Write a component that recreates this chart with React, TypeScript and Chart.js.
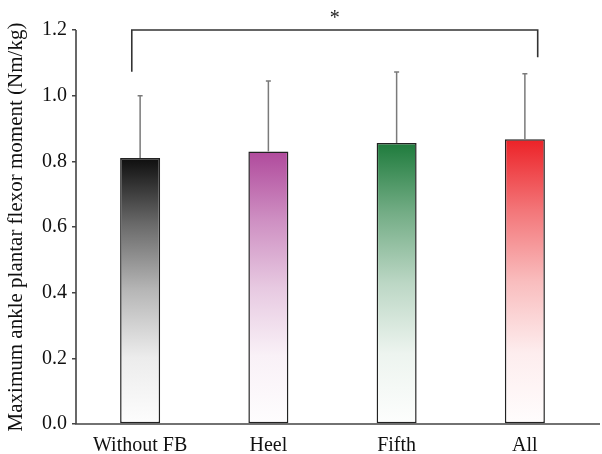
import React, { useEffect, useRef } from "react";
import { Chart, registerables } from "chart.js";

Chart.register(...registerables);

const categories = ["Without FB", "Heel", "Fifth", "All"];
const means = [0.81, 0.83, 0.856, 0.867];
const sdUpper = [0.19, 0.215, 0.216, 0.2];
const barColors = ["#0e0e0e", "#b04a9c", "#1e7b3c", "#ec2227"];
const yTicks = [0, 0.2, 0.4, 0.6, 0.8, 1.0, 1.2];
const bracketX = [-0.065, 3.1];
const bracketTop = [1.2];
const bracketLegEnds = [1.073, 1.117];
const sigLabel = "*";
const yTitle = "Maximum ankle plantar flexor moment (Nm/kg)";

const FONT = "'Liberation Serif', 'DejaVu Serif', serif";

function hexToRgb(h: string) {
  const n = parseInt(h.slice(1), 16);
  return [(n >> 16) & 255, (n >> 8) & 255, n & 255];
}
function mix(h: string, t: number) {
  const [r, g, b] = hexToRgb(h);
  const m = (c: number) => Math.round(c + (255 - c) * t);
  return `rgb(${m(r)},${m(g)},${m(b)})`;
}

const overlay = {
  id: "overlay",
  afterDatasetsDraw(chart: any) {
    const { ctx, scales, chartArea } = chart;
    const x = scales.x;
    const y = scales.y;
    ctx.save();
    // error bars
    ctx.strokeStyle = "#7a7a7a";
    ctx.lineWidth = 1.5;
    means.forEach((m, i) => {
      const cx = x.getPixelForValue(i);
      const y0 = y.getPixelForValue(m);
      const y1 = y.getPixelForValue(m + sdUpper[i]);
      ctx.beginPath();
      ctx.moveTo(cx, y0);
      ctx.lineTo(cx, y1);
      ctx.moveTo(cx - 2.5, y1);
      ctx.lineTo(cx + 2.5, y1);
      ctx.stroke();
    });
    // bracket
    const bx0 = x.getPixelForValue(bracketX[0]);
    const bx1 = x.getPixelForValue(bracketX[1]);
    const by = y.getPixelForValue(bracketTop[0]);
    ctx.strokeStyle = "#333";
    ctx.lineWidth = 1.6;
    ctx.beginPath();
    ctx.moveTo(bx0, y.getPixelForValue(bracketLegEnds[0]));
    ctx.lineTo(bx0, by);
    ctx.lineTo(bx1, by);
    ctx.lineTo(bx1, y.getPixelForValue(bracketLegEnds[1]));
    ctx.stroke();
    ctx.fillStyle = "#222";
    ctx.font = `20px ${FONT}`;
    ctx.textAlign = "center";
    ctx.textBaseline = "bottom";
    ctx.fillText(sigLabel, (bx0 + bx1) / 2, by - 1);
    // axes lines
    ctx.strokeStyle = "#444";
    ctx.lineWidth = 1.6;
    ctx.beginPath();
    ctx.moveTo(chartArea.left, chartArea.top);
    ctx.lineTo(chartArea.left, chartArea.bottom);
    ctx.lineTo(chart.width - 2, chartArea.bottom);
    ctx.stroke();
    ctx.restore();
  },
};

export default function App() {
  const ref = useRef<HTMLCanvasElement>(null);
  useEffect(() => {
    const canvas = ref.current!;
    const chart = new Chart(canvas, {
      type: "bar",
      data: {
        labels: categories,
        datasets: [
          {
            data: means,
            backgroundColor: (c: any) => {
              const { chart, dataIndex } = c;
              const col = barColors[dataIndex];
              const sc = chart.scales;
              if (!sc || !sc.y || !chart.chartArea) return col;
              const top = sc.y.getPixelForValue(means[dataIndex]);
              const bot = sc.y.getPixelForValue(0);
              if (!isFinite(top) || !isFinite(bot) || top === bot) return col;
              const g = chart.ctx.createLinearGradient(0, top, 0, bot);
              g.addColorStop(0, mix(col, 0));
              g.addColorStop(0.25, mix(col, 0.38));
              g.addColorStop(0.5, mix(col, 0.7));
              g.addColorStop(0.75, mix(col, 0.92));
              g.addColorStop(1, mix(col, 0.99));
              return g;
            },
            borderColor: "#222",
            borderWidth: 1.5,
            borderSkipped: false,
            barPercentage: 0.312,
            categoryPercentage: 1,
          },
        ],
      },
      options: {
        responsive: false,
        animation: false,
        layout: { padding: { left: 4, top: 30, right: 13, bottom: 0 } },
        plugins: { legend: { display: false }, tooltip: { enabled: false } },
        scales: {
          x: {
            grid: { display: false },
            border: { display: false },
            ticks: { color: "#111", font: { family: FONT, size: 20 }, padding: 2 },
            afterFit: (s: any) => {
              s.height = 30;
            },
          },
          y: {
            min: 0,
            max: 1.2,
            afterBuildTicks: (s: any) => {
              s.ticks = yTicks.map((v) => ({ value: v }));
            },
            grid: { drawOnChartArea: false, tickLength: 4, color: "#444", lineWidth: 1.5 },
            border: { display: false },
            ticks: {
              color: "#111",
              font: { family: FONT, size: 20 },
              padding: 5,
              callback: (v: any) => Number(v).toFixed(1),
            },
            title: {
              display: true,
              text: yTitle,
              color: "#111",
              font: { family: FONT, size: 21 },
              padding: 0,
            },
            afterFit: (s: any) => {
              s.width = 72;
            },
          },
        },
      },
      plugins: [overlay],
    });
    return () => chart.destroy();
  }, []);
  return (
    <div style={{ position: "absolute", left: 0, top: 0, width: 602, height: 454, background: "#fff" }}>
      <canvas ref={ref} width={602} height={454} />
    </div>
  );
}
